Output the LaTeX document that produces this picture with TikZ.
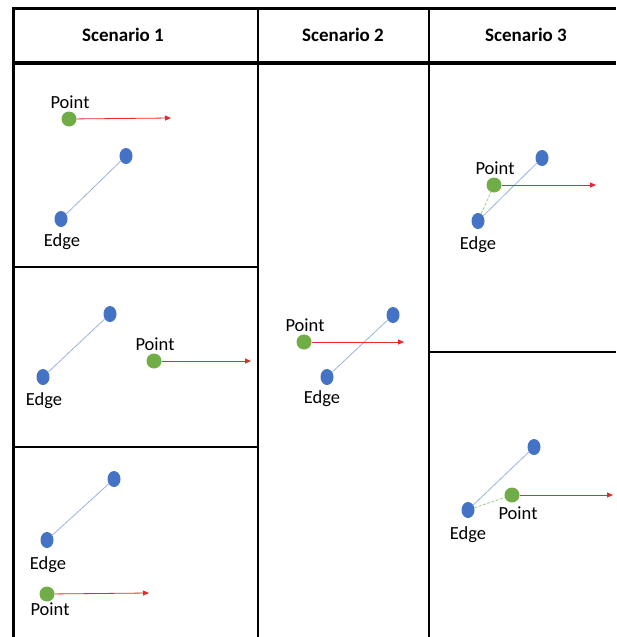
\documentclass[tikz,border=0pt]{standalone}
\usepackage{fontspec}
\setmainfont{Carlito}
\usetikzlibrary{shapes.geometric,arrows.meta}
\definecolor{vblue}{HTML}{4472C4}
\definecolor{vgreen}{HTML}{70AD47}
\definecolor{elink}{HTML}{9DB3DD}
\definecolor{glink}{HTML}{A9D18E}
\definecolor{ray}{HTML}{E8282B}
\tikzset{
  grid/.style={line width=2.5pt,black},
  head/.style={font=\bfseries\fontsize{19}{22}\selectfont},
  lbl/.style={font=\fontsize{18.5}{22}\selectfont,inner sep=0pt},
  vert/.style={ellipse,fill=vblue,draw=none,minimum width=13pt,minimum height=16pt,inner sep=0pt},
  pt/.style={circle,fill=vgreen,draw=none,minimum size=15pt,inner sep=0pt},
  edgeline/.style={elink,line width=0.8pt},
  rayline/.style={ray,line width=0.8pt,-{Triangle[length=6pt,width=5pt]}},
  proj/.style={glink,line width=0.9pt,dashed,dash pattern=on 3pt off 1.5pt}
}
\begin{document}
\begin{tikzpicture}[x=1pt,y=-1pt]
\fill[white] (0,0) rectangle (616,637);
\useasboundingbox (0,0) rectangle (616,637);

% table frame
\draw[grid,line width=3pt] (13,637) -- (13,8) -- (616,8);
\draw[grid,line width=3.2pt] (13,63) -- (616,63);
\draw[grid] (258,8) -- (258,637);
\draw[grid] (429,8) -- (429,637);
\draw[grid] (13,267) -- (258,267);
\draw[grid] (13,447) -- (258,447);
\draw[grid] (429,352) -- (616,352);

% headers
\node[head] (h1) at (123,35) {Scenario 1};
\node[head] (h2) at (343,35) {Scenario 2};
\node[head] (h3) at (526,35) {Scenario 3};

% Scenario 1, case a
\node[vert] (a1) at (126,156) {};
\node[vert] (a2) at (61,219) {};
\node[pt] (ap) at (69,119) {};
\coordinate (ae) at (171,118);
\node[lbl] (apl) at (70,102) {Point};
\node[lbl] (ael) at (62,242) {Edge};
\draw[edgeline] (a2) -- (a1);
\draw[rayline] (ap) -- (ae);

% Scenario 1, case b
\node[vert] (b1) at (110,314) {};
\node[vert] (b2) at (43,377) {};
\node[pt] (bp) at (154,361) {};
\coordinate (be) at (251,361);
\node[lbl] (bpl) at (155,344) {Point};
\node[lbl] (bel) at (44,401) {Edge};
\draw[edgeline] (b2) -- (b1);
\draw[rayline] (bp) -- (be);

% Scenario 1, case c
\node[vert] (c1) at (114,479) {};
\node[vert] (c2) at (47,540) {};
\node[pt] (cp) at (47,594) {};
\coordinate (ce) at (149,593);
\node[lbl] (cel) at (48,565) {Edge};
\node[lbl] (cpl) at (50,609) {Point};
\draw[edgeline] (c2) -- (c1);
\draw[rayline] (cp) -- (ce);

% Scenario 2
\node[vert] (d1) at (393,315) {};
\node[vert] (d2) at (327,377) {};
\node[pt] (dp) at (304,342) {};
\coordinate (de) at (404,342);
\node[lbl] (dpl) at (305,325) {Point};
\node[lbl] (del) at (322,399) {Edge};
\draw[edgeline] (d2) -- (d1);
\draw[rayline] (dp) -- (de);

% Scenario 3, case a
\node[vert] (e1) at (542,158) {};
\node[vert] (e2) at (478,221) {};
\node[pt] (ep) at (494,185) {};
\coordinate (ee) at (596,185);
\node[lbl] (epl) at (495,168) {Point};
\node[lbl] (eel) at (478,245) {Edge};
\draw[edgeline] (e2) -- (e1);
\draw[proj] (e2) -- (ep);
\draw[rayline] (ep) -- (ee);

% Scenario 3, case b
\node[vert] (f1) at (534,447) {};
\node[vert] (f2) at (468,510) {};
\node[pt] (fp) at (512,495) {};
\coordinate (fe) at (613,495);
\node[lbl] (fpl) at (518,513) {Point};
\node[lbl] (fel) at (468,535) {Edge};
\draw[edgeline] (f2) -- (f1);
\draw[proj] (f2) -- (fp);
\draw[rayline] (fp) -- (fe);
\end{tikzpicture}
\end{document}
